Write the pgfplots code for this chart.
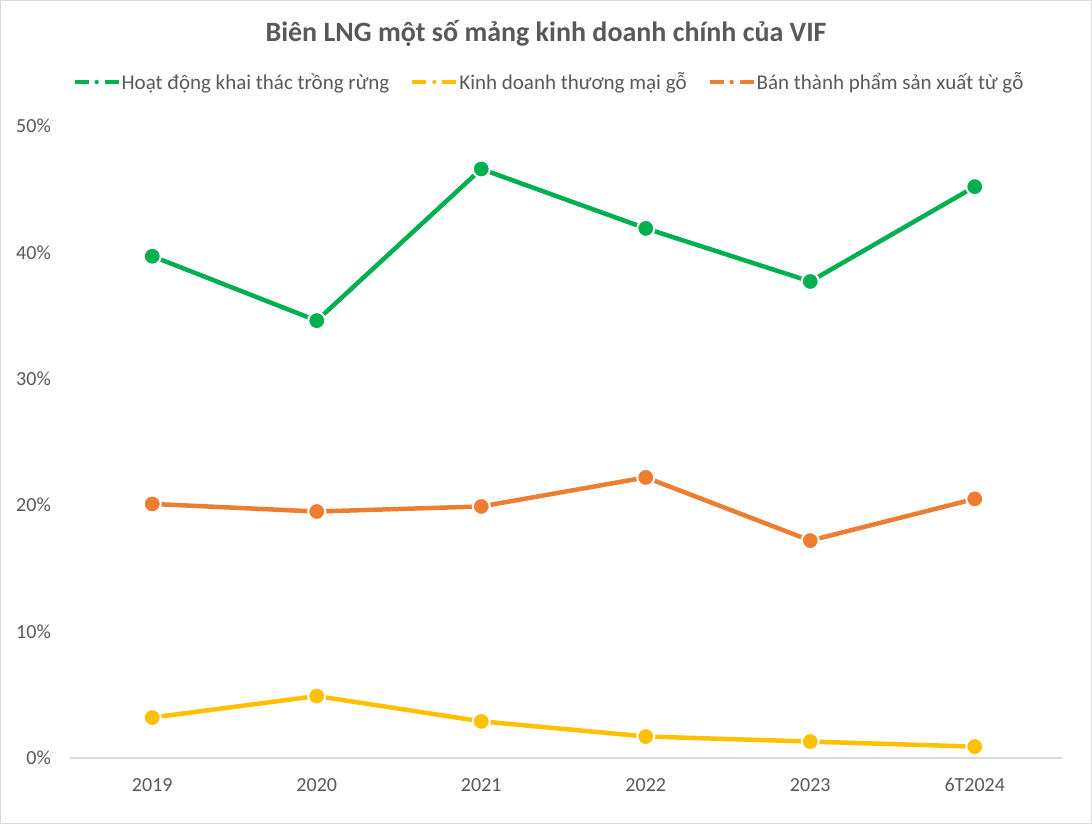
\documentclass[border=0pt]{standalone}
\usepackage{pgfplots}
\pgfplotsset{compat=1.18}
\usepackage{fontspec}
\setmainfont{Carlito}
\definecolor{txt}{HTML}{595959}
\definecolor{frame}{HTML}{D9D9D9}
\definecolor{cgreen}{HTML}{00B050}
\definecolor{cyellow}{HTML}{FFC000}
\definecolor{corange}{HTML}{ED7D31}
\begin{document}
\begin{tikzpicture}
% whole chart area, 1 px = 1 bp, axis box lower left at (0,0)
\useasboundingbox (-70bp,-66bp) rectangle (1022bp,758bp);
\fill[white] (-70bp,-66bp) rectangle (1022bp,758bp);
\draw[frame, line width=1bp] (-69.5bp,-65.5bp) rectangle (1021.5bp,757.5bp);
\begin{axis}[
	scale only axis,
	width=987bp, height=632bp,
	xmin=-0.5, xmax=5.5,
	ymin=0, ymax=50,
	axis line style={draw=none},
	clip=false,
	xtick={0,...,5},
	xticklabels={2019,2020,2021,2022,2023,6T2024},
	ytick={0,10,20,30,40,50},
	yticklabels={0\%,10\%,20\%,30\%,40\%,50\%},
	major tick length=0pt,
	tick style={draw=none},
	tick label style={font=\fontsize{20bp}{24bp}\selectfont, text=txt, inner sep=0pt},
	yticklabel style={anchor=east, xshift=-19bp},
	xticklabel style={anchor=north, yshift=-20bp},
	legend columns=-1,
	legend style={at={(0.4843,1.0696)}, anchor=center, draw=none, fill=none,
		font=\fontsize{21bp}{25bp}\selectfont, text=txt, inner sep=0pt,
		nodes={inner sep=0pt},
		/tikz/every even column/.append style={column sep=21bp},
		/tikz/every odd column/.append style={column sep=1bp}},
	legend image code/.code={
		\draw[#1, line width=4bp] (0bp,0bp) -- (14bp,0bp);
		\draw[#1, line width=4bp] (30bp,0bp) -- (44bp,0bp);
		\path[#1, fill, draw=none] (22bp,0bp) circle (2.2bp);
	},
	every axis plot/.append style={line width=4.5bp, mark=*, mark size=8.5bp},
]
% x axis line
\draw[frame, line width=1.5bp] (axis cs:-0.5,0) -- (axis cs:5.53,0);
\addplot[color=cgreen, mark options={fill=cgreen, draw=white, line width=2bp}] coordinates {
	(0,39.7) (1,34.6) (2,46.6) (3,41.9) (4,37.7) (5,45.2)};
\addplot[color=cyellow, mark options={fill=cyellow, draw=white, line width=2bp}] coordinates {
	(0,3.2) (1,4.9) (2,2.9) (3,1.7) (4,1.3) (5,0.9)};
\addplot[color=corange, mark options={fill=corange, draw=white, line width=2bp}] coordinates {
	(0,20.1) (1,19.5) (2,19.9) (3,22.2) (4,17.2) (5,20.5)};
\legend{Hoạt động khai thác trồng rừng, Kinh doanh thương mại gỗ, Bán thành phẩm sản xuất từ gỗ}
\end{axis}
\node[text=txt, font=\bfseries\fontsize{28bp}{32bp}\selectfont, inner sep=0pt] at (476bp,725bp) {Biên LNG một số mảng kinh doanh chính của VIF};
\end{tikzpicture}
\end{document}
